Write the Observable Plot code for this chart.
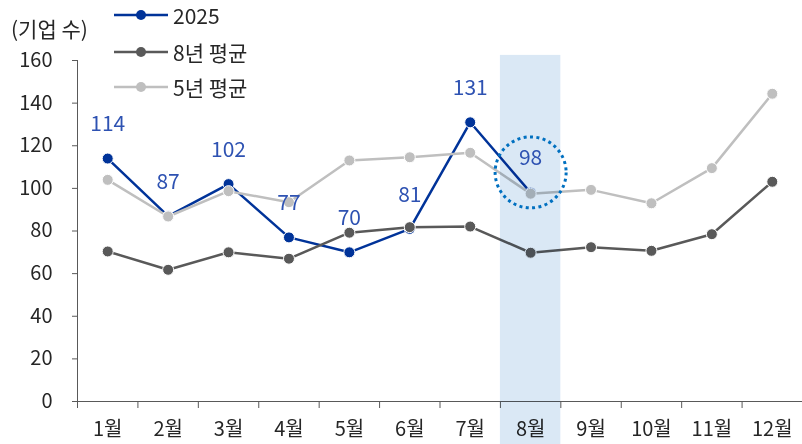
<!DOCTYPE html>
<html>
<head>
<meta charset="utf-8">
<script src="https://cdn.jsdelivr.net/npm/d3@7"></script>
<script src="https://cdn.jsdelivr.net/npm/@observablehq/plot@0.6"></script>
<style>
  html, body { margin: 0; padding: 0; background: #fff; }
  body { font-family: "Noto Sans CJK KR", "Noto Sans", sans-serif; }
  #wrap { position: relative; width: 802px; height: 444px; }
  #wrap svg.plot { position: absolute; left: 0; top: 0; }
  .ytitle { position: absolute; left: 11px; top: 13px; font-size: 21px; color: #262626; line-height: 30px; white-space: nowrap; }
  .leg { position: absolute; left: 113px; height: 30px; display: flex; align-items: center; font-size: 21px; color: #262626; white-space: nowrap; }
  .leg svg { margin-right: 4px; }
</style>
</head>
<body>
<div id="wrap"></div>
<script>
// ---- data ----
const months = ["1월","2월","3월","4월","5월","6월","7월","8월","9월","10월","11월","12월"];
const series2025 = [114, 87, 102, 77, 70, 81, 131, 98];
const avg8yr = [70.4, 61.8, 70, 67, 79.2, 81.8, 82.1, 69.8, 72.4, 70.7, 78.5, 103.1];
const avg5yr = [104, 86.8, 98.7, 93.5, 113.1, 114.6, 116.7, 97.5, 99.3, 93, 109.5, 144.4];
const yTicks = [0, 20, 40, 60, 80, 100, 120, 140, 160];
const seriesNames = ["2025", "8년 평균", "5년 평균"];
const yTitle = "(기업 수)";
const highlightMonth = 8;          // 8월 highlighted
const circleNote = {m: 8, v: 107.5}; // dotted circle around latest value

// ---- styles ----
const colors = {"2025": "#003399", "8년 평균": "#595959", "5년 평균": "#BFBFBF"};
const labelColor = "#2E52B2";
const axisColor = "#595959";

const rows = (arr) => arr.map((v, i) => ({m: i + 1, v}));
const r2025 = rows(series2025), r8 = rows(avg8yr), r5 = rows(avg5yr);

const font = "'Noto Sans CJK KR', 'Noto Sans', sans-serif";

const chart = Plot.plot({
  width: 802,
  height: 444,
  marginLeft: 77,
  marginRight: 0,
  marginTop: 60,
  marginBottom: 43,
  style: {fontFamily: font, background: "transparent", overflow: "visible"},
  x: {type: "linear", domain: [0.5, months.length + 0.5]},
  y: {domain: [0, 160]},
  marks: [
    Plot.axisY({ticks: yTicks, tickSize: 5, tickPadding: 20, fontSize: 20, fill: "#262626", stroke: axisColor, label: null}),
    Plot.axisX({ticks: d3.range(0.5, months.length + 1, 1), tickSize: 7, text: null, stroke: axisColor, label: null}),
    Plot.axisX({ticks: d3.range(1, months.length + 1), tickSize: 0, tickPadding: 20, fontSize: 20, fill: "#262626",
                tickFormat: d => months[d - 1], label: null}),
    Plot.ruleX([0.5], {y1: 0, y2: 160, stroke: axisColor, strokeWidth: 1}),
    Plot.ruleY([0], {x1: 0.5, x2: months.length + 0.5, stroke: axisColor, strokeWidth: 1}),
    // 2025
    Plot.line(r2025, {x: "m", y: "v", stroke: colors["2025"], strokeWidth: 2.5}),
    Plot.dot(r2025, {x: "m", y: "v", r: 5.5, fill: colors["2025"], stroke: "white", strokeWidth: 1}),
    // 8yr
    Plot.line(r8, {x: "m", y: "v", stroke: colors["8년 평균"], strokeWidth: 2.5}),
    Plot.dot(r8, {x: "m", y: "v", r: 5.5, fill: colors["8년 평균"], stroke: "white", strokeWidth: 1}),
    // 5yr
    Plot.line(r5, {x: "m", y: "v", stroke: colors["5년 평균"], strokeWidth: 2.5}),
    Plot.dot(r5, {x: "m", y: "v", r: 5.5, fill: colors["5년 평균"], stroke: "white", strokeWidth: 1}),
    // highlight band (multiply overlay)
    Plot.rect([highlightMonth], {x1: d => d - 0.5, x2: d => d + 0.5, y1: -20.5, y2: 162.4,
                                 fill: "#DAE8F5", mixBlendMode: "multiply"}),
    // labels
    Plot.text(r2025, {x: "m", y: "v", text: d => String(d.v), dy: -34, fill: labelColor, fontSize: 21}),
    // dotted circle
    Plot.dot([circleNote], {x: "m", y: "v", r: 35.5, fill: "none", stroke: "#0070C0", strokeWidth: 3, strokeDasharray: "3,3.4"})
  ]
});
chart.classList.add("plot");

const wrap = document.getElementById("wrap");
wrap.appendChild(chart);

const t = document.createElement("div");
t.className = "ytitle";
t.textContent = yTitle;
wrap.appendChild(t);

const legTops = [0, 36.5, 71.5];
seriesNames.forEach((name, i) => {
  const d = document.createElement("div");
  d.className = "leg";
  d.style.top = legTops[i] + "px";
  const c = colors[name];
  d.innerHTML = `<svg width="56" height="14"><line x1="1" y1="7" x2="55" y2="7" stroke="${c}" stroke-width="2.5"/><circle cx="28" cy="7" r="5" fill="${c}"/></svg><span>${name}</span>`;
  wrap.appendChild(d);
});
</script>
</body>
</html>
